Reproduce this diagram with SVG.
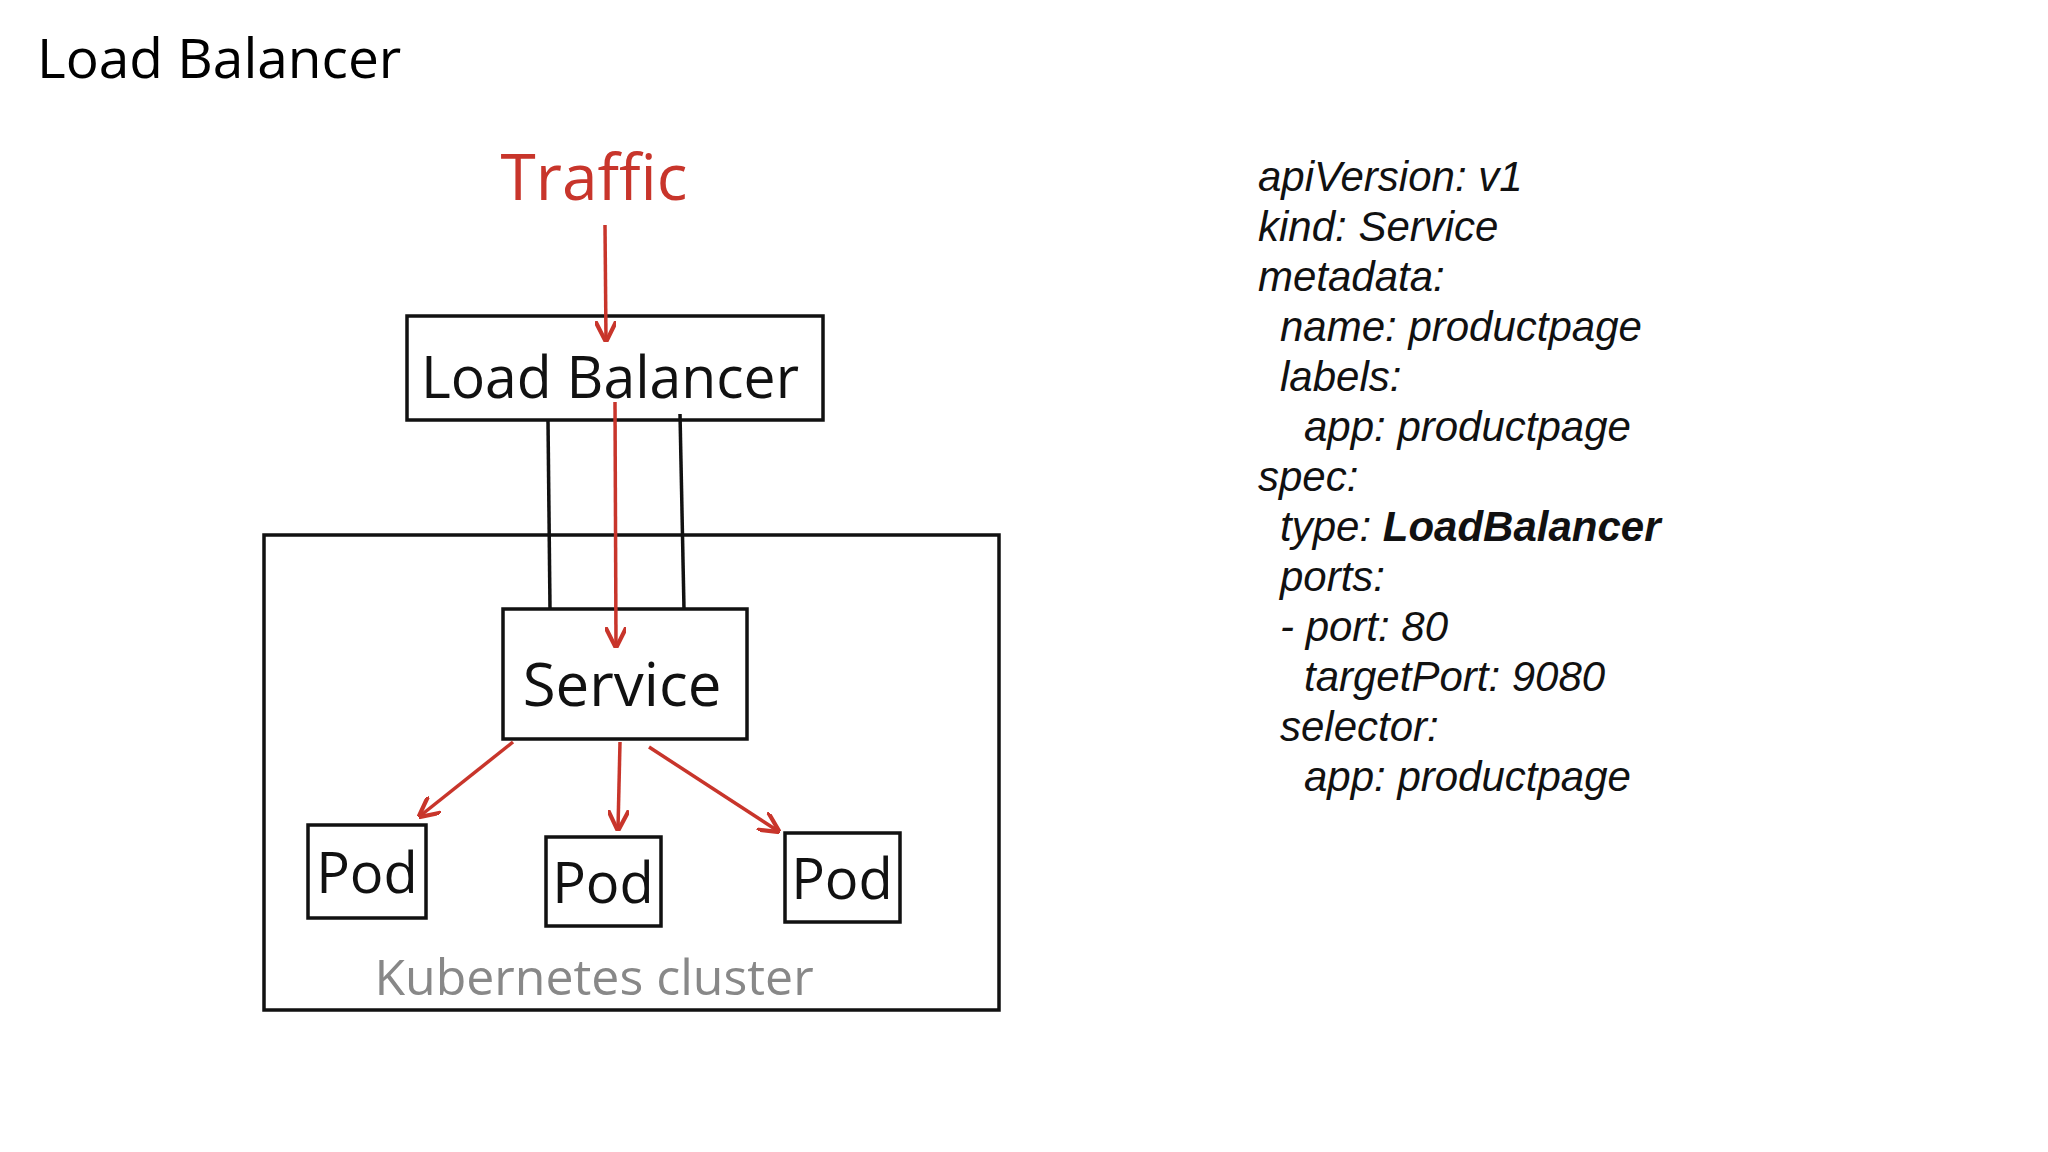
<svg xmlns="http://www.w3.org/2000/svg" width="2048" height="1152" viewBox="0 0 2048 1152">
<defs>
<style>
.box{fill:none;stroke:#111;stroke-width:3.5}
.hand{font-family:"Open Sans","Liberation Sans",sans-serif;fill:#111}
.red{stroke:#c8352b;stroke-width:3.5;fill:none}
.y{font-family:"Liberation Sans",Arial,sans-serif;font-style:italic;font-size:42px;fill:#111}
</style>
<marker id="ah" viewBox="0 0 10 10" refX="9" refY="5" markerWidth="6" markerHeight="6" orient="auto"><path d="M0,0 L10,5 L0,10" fill="none" stroke="#c8352b" stroke-width="2"/></marker>
</defs>
<rect width="2048" height="1152" fill="#fff"/>
<text x="37" y="78" font-family="Open Sans, Liberation Sans, sans-serif" font-size="55" fill="#000">Load Balancer</text>
<g id="traffic"><text x="594" y="200" text-anchor="middle" class="hand" font-size="64" style="fill:#c8352b">Traffic</text></g>
<g id="cluster"><rect class="box" x="264" y="535" width="735" height="475"/><text x="594" y="995" text-anchor="middle" class="hand" font-size="50" style="fill:#888">Kubernetes cluster</text></g>
<g id="lb"><rect class="box" x="407" y="316" width="416" height="104"/><text x="610" y="398" text-anchor="middle" class="hand" font-size="58" textLength="378" lengthAdjust="spacingAndGlyphs">Load Balancer</text></g>
<g id="service"><rect class="box" x="503" y="609" width="244" height="130"/><text x="622" y="706" text-anchor="middle" class="hand" font-size="60">Service</text></g>
<g id="pod1"><rect class="box" x="308" y="825" width="118" height="93"/><text x="367" y="893" text-anchor="middle" class="hand" font-size="56">Pod</text></g>
<g id="pod2"><rect class="box" x="546" y="837" width="115" height="89"/><text x="603" y="903" text-anchor="middle" class="hand" font-size="56">Pod</text></g>
<g id="pod3"><rect class="box" x="785" y="833" width="115" height="89"/><text x="842" y="899" text-anchor="middle" class="hand" font-size="56">Pod</text></g>
<g id="connectors">
<line x1="548" y1="420" x2="550" y2="609" stroke="#111" stroke-width="3.5"/>
<line x1="680" y1="414" x2="684" y2="609" stroke="#111" stroke-width="3.5"/>
<line class="red" x1="605" y1="225" x2="606" y2="340" marker-end="url(#ah)"/>
<line class="red" x1="615" y1="402" x2="616" y2="646" marker-end="url(#ah)"/>
<line class="red" x1="513" y1="742" x2="420" y2="816" marker-end="url(#ah)"/>
<line class="red" x1="620" y1="742" x2="618" y2="829" marker-end="url(#ah)"/>
<line class="red" x1="649" y1="747" x2="778" y2="831" marker-end="url(#ah)"/>
</g>
<g id="yaml">
<text class="y" x="1258" y="191">apiVersion: v1</text>
<text class="y" x="1258" y="241">kind: Service</text>
<text class="y" x="1258" y="291">metadata:</text>
<text class="y" x="1280" y="341">name: productpage</text>
<text class="y" x="1280" y="391">labels:</text>
<text class="y" x="1304" y="441">app: productpage</text>
<text class="y" x="1258" y="491">spec:</text>
<text class="y" x="1280" y="541">type: <tspan font-weight="bold">LoadBalancer</tspan></text>
<text class="y" x="1280" y="591">ports:</text>
<text class="y" x="1280" y="641">- port: 80</text>
<text class="y" x="1304" y="691">targetPort: 9080</text>
<text class="y" x="1280" y="741">selector:</text>
<text class="y" x="1304" y="791">app: productpage</text>
</g>
</svg>
